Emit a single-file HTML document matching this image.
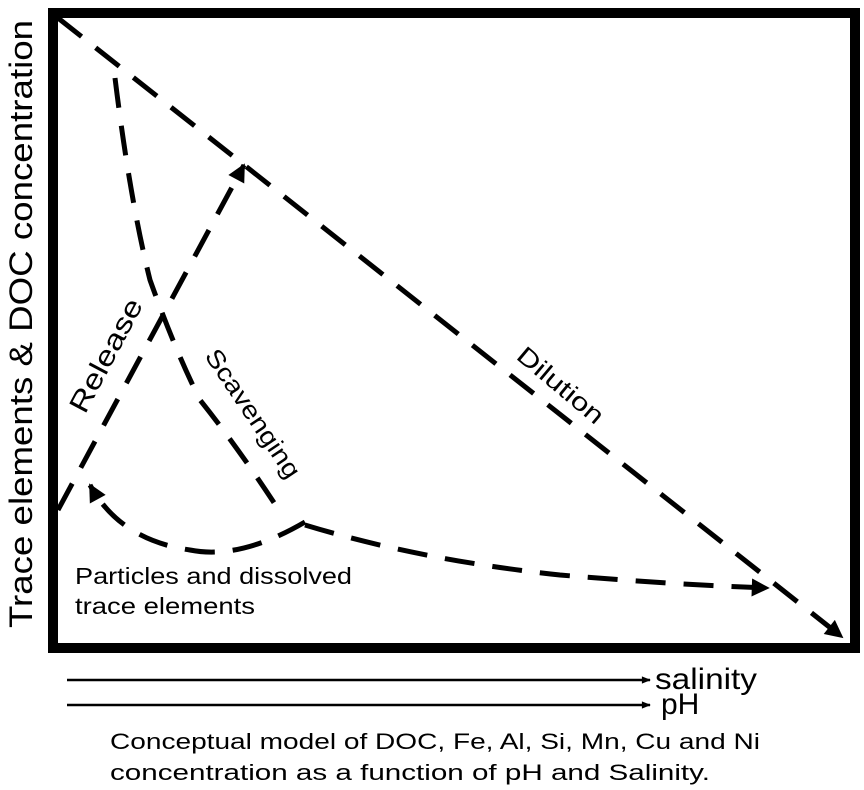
<!DOCTYPE html>
<html><head><style>body{margin:0;background:#fff}svg{display:block}</style></head><body>
<svg width="864" height="790" viewBox="0 0 864 790" xmlns="http://www.w3.org/2000/svg" font-family="Liberation Sans, Arial, sans-serif">
<defs>
<marker id="a" viewBox="0 0 10 10" refX="9" refY="5" markerWidth="26" markerHeight="18" orient="auto" markerUnits="userSpaceOnUse"><path d="M0,0L10,5L0,10z" fill="#000"/></marker>
<marker id="s" viewBox="0 0 10 10" refX="9" refY="5" markerWidth="16" markerHeight="9" orient="auto" markerUnits="userSpaceOnUse"><path d="M0,1L10,5L0,9z" fill="#000"/></marker>
</defs>
<rect x="53" y="13" width="802" height="635" fill="none" stroke="#000" stroke-width="10"/>
<g fill="none" stroke="#000" stroke-width="5" stroke-dasharray="30,18">
<path d="M58,18 L842,637" marker-end="url(#a)"/>
<path d="M58,510 L244,165" marker-end="url(#a)"/>
<path d="M115,78 Q130,200 150,280 Q175,350 200,400 Q240,450 282,515"/>
<path d="M305,522 Q240,560 190,550 Q120,540 90,485" marker-end="url(#a)"/>
<path d="M305,525 Q420,560 560,575 Q680,585 768,588" marker-end="url(#a)"/>
</g>
<text x="0" y="0" font-size="32" textLength="608" lengthAdjust="spacingAndGlyphs" transform="translate(32,628) rotate(-90)">Trace elements &amp; DOC concentration</text>
<text x="0" y="0" font-size="28" textLength="125" lengthAdjust="spacingAndGlyphs" transform="translate(85,415) rotate(-62)">Release</text>
<text x="0" y="0" font-size="25" textLength="150" lengthAdjust="spacingAndGlyphs" transform="translate(204,356) rotate(56)">Scavenging</text>
<text x="0" y="0" font-size="25" textLength="105" lengthAdjust="spacingAndGlyphs" transform="translate(515,358) rotate(40)">Dilution</text>
<text x="75" y="584" font-size="23" textLength="277" lengthAdjust="spacingAndGlyphs">Particles and dissolved</text>
<text x="75" y="614" font-size="23" textLength="180" lengthAdjust="spacingAndGlyphs">trace elements</text>
<line x1="67" y1="680" x2="650" y2="680" stroke="#000" stroke-width="2.5" marker-end="url(#s)"/>
<line x1="67" y1="705" x2="650" y2="705" stroke="#000" stroke-width="2.5" marker-end="url(#s)"/>
<text x="655" y="689" font-size="30" textLength="102" lengthAdjust="spacingAndGlyphs">salinity</text>
<text x="661" y="714" font-size="30">pH</text>
<text x="110" y="749" font-size="22" textLength="650" lengthAdjust="spacingAndGlyphs">Conceptual model of DOC, Fe, Al, Si, Mn, Cu and Ni</text>
<text x="110" y="780" font-size="22" textLength="600" lengthAdjust="spacingAndGlyphs">concentration as a function of pH and Salinity.</text>
</svg>
</body></html>
